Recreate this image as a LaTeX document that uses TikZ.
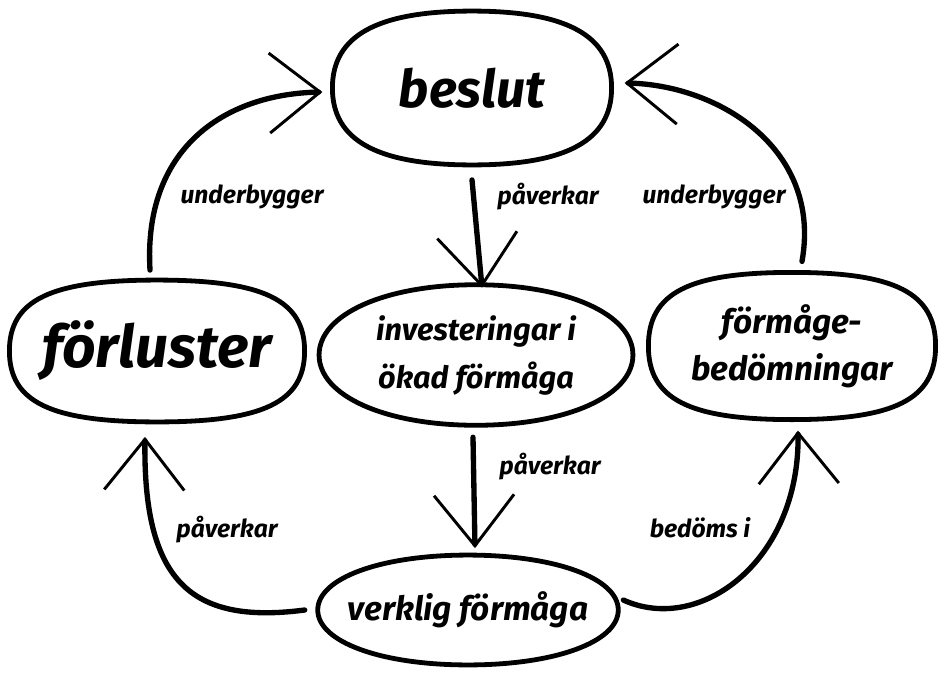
\documentclass[tikz,border=0pt]{standalone}
\usepackage{fontspec}
\setmainfont{Fira Sans}
\usetikzlibrary{arrows.meta,shapes.geometric,calc}
\newcommand\squircle[2]{%
  \draw[ring] (#1.west)
    .. controls ($(#1.west)!#2!(#1.north west)$) and ($(#1.north)!#2!(#1.north west)$) .. (#1.north)
    .. controls ($(#1.north)!#2!(#1.north east)$) and ($(#1.east)!#2!(#1.north east)$) .. (#1.east)
    .. controls ($(#1.east)!#2!(#1.south east)$) and ($(#1.south)!#2!(#1.south east)$) .. (#1.south)
    .. controls ($(#1.south)!#2!(#1.south west)$) and ($(#1.west)!#2!(#1.south west)$) .. cycle;}
\begin{document}
\begin{tikzpicture}[x=0.75pt,y=-0.75pt,
  blob/.style={rectangle, inner sep=0pt, align=center},
  ring/.style={line width=3.6pt, line join=round},
  conn/.style={line width=4pt, line cap=round, -{Straight Barb[length=38pt,width=60pt,line width=2.2pt]}},
  lbl/.style={font=\bfseries\itshape\fontsize{18.5}{20}\selectfont}]
\fill[white] (0,0) rectangle (939,675);
\useasboundingbox (0,0) rectangle (939,675);

\node[blob, minimum width=209pt, minimum height=115pt, font=\bfseries\itshape\fontsize{39}{40}\selectfont] (beslut) at (472,88) {beslut};
\node[blob, minimum width=221pt, minimum height=106pt, font=\bfseries\itshape\fontsize{44}{46}\selectfont] (forl) at (157,351) {förluster};
\node[blob, minimum width=235pt, minimum height=105pt, font=\bfseries\itshape\fontsize{23}{36}\selectfont] (inv) at (476,355)
  {investeringar i\\ökad förmåga};
\node[blob, minimum width=215pt, minimum height=110pt, font=\bfseries\itshape\fontsize{25}{35}\selectfont] (fm) at (792,346)
  {förmåge-\\bedömningar};
\node[blob, minimum width=225pt, minimum height=82pt, font=\bfseries\itshape\fontsize{25}{30}\selectfont] (verk) at (468,610)
  {verklig förmåga};

\squircle{beslut}{0.68}
\squircle{forl}{0.72}
\squircle{inv}{0.58}
\squircle{fm}{0.72}
\squircle{verk}{0.58}

\draw[conn] ([shift={(0,15)}]beslut.south) -- ([shift={(6,3)}]inv.north);
\draw[conn] ([shift={(-3,12)}]inv.south) -- ([shift={(7,-7)}]verk.north);
\draw[conn] ([shift={(-7,-10)}]forl.north) .. controls +(-7,-120) and +(-100,2) .. ([shift={(-10,4)}]beslut.west);
\draw[conn] ([shift={(10,-11)}]fm.north) .. controls +(20,-112) and +(95,2) .. ([shift={(13,-5)}]beslut.east);
\draw[conn] ([shift={(-13,0)}]verk.west) .. controls +(-115,15) and +(-2,143) .. ([shift={(-12,15)}]forl.south);
\draw[conn] ([shift={(5,-10)}]verk.east) .. controls +(77,35) and +(2,130) .. ([shift={(6,11)}]fm.south);

\node[lbl] (l1) at (548,197) {påverkar};
\node[lbl] (l2) at (550,467) {påverkar};
\node[lbl] (l3) at (252,197) {underbygger};
\node[lbl] (l4) at (714,197) {underbygger};
\node[lbl] (l5) at (227,530) {påverkar};
\node[lbl] (l6) at (700,528) {bedöms i};
\end{tikzpicture}
\end{document}
